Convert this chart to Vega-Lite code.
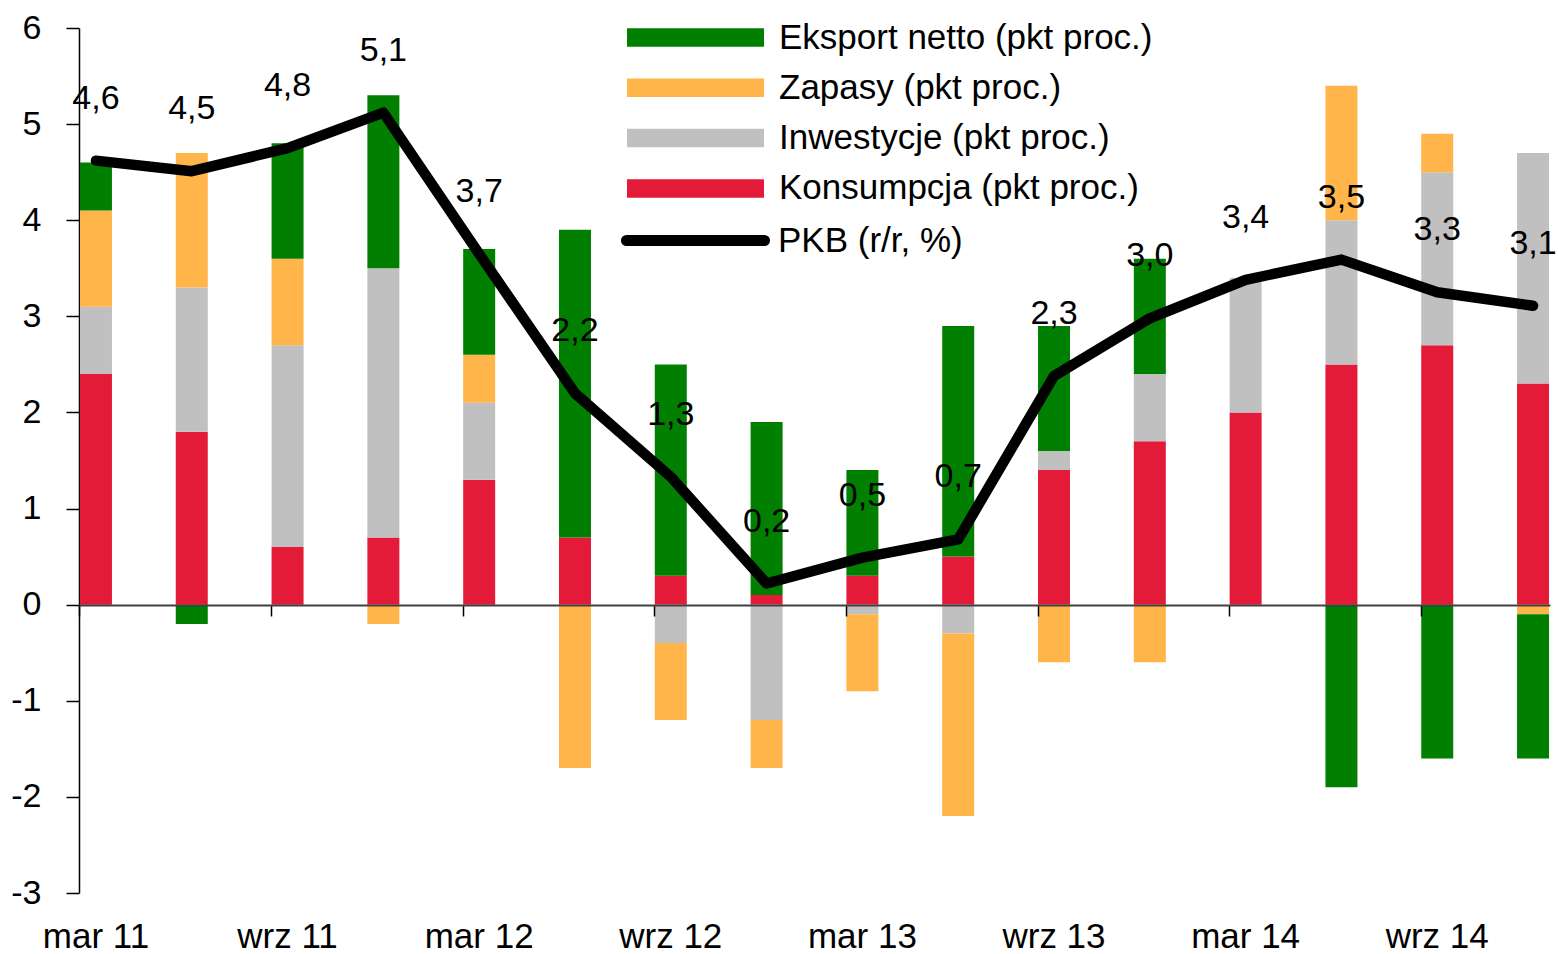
{
  "$schema": "https://vega.github.io/schema/vega-lite/v6.json",
  "width": 1471,
  "height": 865,
  "autosize": {"type": "none"},
  "padding": {"left": 79, "top": 28, "right": 8, "bottom": 61},
  "background": "white",
  "config": {"view": {"stroke": null}, "font": "Liberation Sans"},
  "datasets": {
    "kw": [
      {"kwartal": "mar 11", "K": 2.4, "I": 0.7, "Z": 1.0, "E": 0.5, "PKB": 4.62, "etykieta": "4,6"},
      {"kwartal": "cze 11", "K": 1.8, "I": 1.5, "Z": 1.4, "E": -0.2, "PKB": 4.51, "etykieta": "4,5"},
      {"kwartal": "wrz 11", "K": 0.6, "I": 2.1, "Z": 0.9, "E": 1.2, "PKB": 4.75, "etykieta": "4,8"},
      {"kwartal": "gru 11", "K": 0.7, "I": 2.8, "Z": -0.2, "E": 1.8, "PKB": 5.12, "etykieta": "5,1"},
      {"kwartal": "mar 12", "K": 1.3, "I": 0.8, "Z": 0.5, "E": 1.1, "PKB": 3.65, "etykieta": "3,7"},
      {"kwartal": "cze 12", "K": 0.7, "I": 0.0, "Z": -1.7, "E": 3.2, "PKB": 2.2, "etykieta": "2,2"},
      {"kwartal": "wrz 12", "K": 0.3, "I": -0.4, "Z": -0.8, "E": 2.2, "PKB": 1.33, "etykieta": "1,3"},
      {"kwartal": "gru 12", "K": 0.1, "I": -1.2, "Z": -0.5, "E": 1.8, "PKB": 0.22, "etykieta": "0,2"},
      {"kwartal": "mar 13", "K": 0.3, "I": -0.1, "Z": -0.8, "E": 1.1, "PKB": 0.49, "etykieta": "0,5"},
      {"kwartal": "cze 13", "K": 0.5, "I": -0.3, "Z": -1.9, "E": 2.4, "PKB": 0.68, "etykieta": "0,7"},
      {"kwartal": "wrz 13", "K": 1.4, "I": 0.2, "Z": -0.6, "E": 1.3, "PKB": 2.38, "etykieta": "2,3"},
      {"kwartal": "gru 13", "K": 1.7, "I": 0.7, "Z": -0.6, "E": 1.2, "PKB": 2.98, "etykieta": "3,0"},
      {"kwartal": "mar 14", "K": 2.0, "I": 1.4, "Z": 0.0, "E": 0.0, "PKB": 3.38, "etykieta": "3,4"},
      {"kwartal": "cze 14", "K": 2.5, "I": 1.5, "Z": 1.4, "E": -1.9, "PKB": 3.59, "etykieta": "3,5"},
      {"kwartal": "wrz 14", "K": 2.7, "I": 1.8, "Z": 0.4, "E": -1.6, "PKB": 3.25, "etykieta": "3,3"},
      {"kwartal": "gru 14", "K": 2.3, "I": 2.4, "Z": -0.1, "E": -1.5, "PKB": 3.11, "etykieta": "3,1"}
    ],
    "serie": [
      {"kod": "K", "seria": "Konsumpcja (pkt proc.)", "kolejnosc": 1},
      {"kod": "I", "seria": "Inwestycje (pkt proc.)", "kolejnosc": 2},
      {"kod": "Z", "seria": "Zapasy (pkt proc.)", "kolejnosc": 3},
      {"kod": "E", "seria": "Eksport netto (pkt proc.)", "kolejnosc": 4}
    ]
  },
  "data": {"name": "kw"},
  "encoding": {
    "x": {
      "field": "kwartal",
      "type": "nominal",
      "scale": {
        "domain": ["mar 11","cze 11","wrz 11","gru 11","mar 12","cze 12","wrz 12","gru 12","mar 13","cze 13","wrz 13","gru 13","mar 14","cze 14","wrz 14","gru 14"],
        "paddingInner": 0.666,
        "paddingOuter": 0.01
      },
      "axis": {
        "title": null,
        "orient": "bottom",
        "offset": -288,
        "zindex": 1,
        "values": ["mar 11","wrz 11","mar 12","wrz 12","mar 13","wrz 13","mar 14","wrz 14"],
        "bandPosition": 0,
        "domainColor": "#404040",
        "domainWidth": 2,
        "tickColor": "black",
        "tickWidth": 1.5,
        "tickSize": 11,
        "labelOffset": 0,
        "labelPadding": 303,
        "labelAngle": 0,
        "labelFontSize": 35,
        "labelFont": "Liberation Sans",
        "labelColor": "black",
        "labelOverlap": false,
        "labelBound": false,
        "grid": false
      }
    }
  },
  "layer": [
    {
      "transform": [
        {"fold": ["K", "I", "Z", "E"], "as": ["kod", "wartosc"]},
        {"lookup": "kod", "from": {"data": {"name": "serie"}, "key": "kod", "fields": ["seria", "kolejnosc"]}}
      ],
      "mark": {"type": "bar"},
      "encoding": {
        "y": {
          "field": "wartosc",
          "type": "quantitative",
          "stack": "zero",
          "scale": {"domain": [-3, 6], "nice": false, "zero": false},
          "axis": {
            "title": null,
            "values": [-3, -2, -1, 0, 1, 2, 3, 4, 5, 6],
            "labelExpr": "'' + datum.value",
            "grid": false,
            "domainColor": "black",
            "domainWidth": 1.5,
            "tickColor": "black",
            "tickWidth": 1.5,
            "tickSize": 13,
            "labelFontSize": 34,
            "labelFont": "Liberation Sans",
            "labelColor": "black",
            "labelPadding": 25
          }
        },
        "color": {
          "field": "seria",
          "type": "nominal",
          "scale": {
            "domain": ["Eksport netto (pkt proc.)", "Zapasy (pkt proc.)", "Inwestycje (pkt proc.)", "Konsumpcja (pkt proc.)"],
            "range": ["#007F00", "#FFB54A", "#C0C0C0", "#E31A38"]
          },
          "legend": {
            "title": null,
            "orient": "none",
            "legendX": 598,
            "legendY": -9,
            "padding": 0,
            "symbolType": "M-3.703,-0.5H3.703V0.5H-3.703Z",
            "symbolSize": 1369,
            "symbolStrokeWidth": 0,
            "symbolOpacity": 1,
            "labelFontSize": 35,
            "labelFont": "Liberation Sans",
            "labelColor": "black",
            "labelOffset": 65,
            "labelLimit": 700,
            "rowPadding": 13.3
          }
        },
        "order": {"field": "kolejnosc", "type": "quantitative", "sort": "ascending"}
      }
    },
    {
      "mark": {"type": "line", "strokeWidth": 10.5, "strokeCap": "round", "strokeJoin": "round"},
      "encoding": {
        "y": {
          "field": "PKB",
          "type": "quantitative",
          "axis": {
            "title": null,
            "values": [-3, -2, -1, 0, 1, 2, 3, 4, 5, 6],
            "labelExpr": "'' + datum.value",
            "grid": false,
            "domainColor": "black",
            "domainWidth": 1.5,
            "tickColor": "black",
            "tickWidth": 1.5,
            "tickSize": 13,
            "labelFontSize": 34,
            "labelFont": "Liberation Sans",
            "labelColor": "black",
            "labelPadding": 25
          }
        },
        "stroke": {
          "datum": "PKB (r/r, %)",
          "type": "nominal",
          "scale": {"range": ["black"]},
          "legend": {
            "title": null,
            "orient": "none",
            "legendX": 592.5,
            "legendY": 188.5,
            "padding": 0,
            "symbolType": "M-3.73,0H3.73",
            "symbolSize": 1369,
            "symbolStrokeWidth": 11,
            "symbolStrokeColor": "black",
            "labelFontSize": 35,
            "labelFont": "Liberation Sans",
            "labelColor": "black",
            "labelOffset": 58.5,
            "labelLimit": 700,
            "encode": {"symbols": {"update": {"strokeCap": {"value": "round"}}}}
          }
        }
      }
    },
    {
      "mark": {"type": "text", "dy": -62, "fontSize": 34, "font": "Liberation Sans", "color": "black"},
      "encoding": {
        "y": {
          "field": "PKB",
          "type": "quantitative",
          "axis": {
            "title": null,
            "values": [-3, -2, -1, 0, 1, 2, 3, 4, 5, 6],
            "labelExpr": "'' + datum.value",
            "grid": false,
            "domainColor": "black",
            "domainWidth": 1.5,
            "tickColor": "black",
            "tickWidth": 1.5,
            "tickSize": 13,
            "labelFontSize": 34,
            "labelFont": "Liberation Sans",
            "labelColor": "black",
            "labelPadding": 25
          }
        },
        "text": {"field": "etykieta"}
      }
    }
  ]
}
